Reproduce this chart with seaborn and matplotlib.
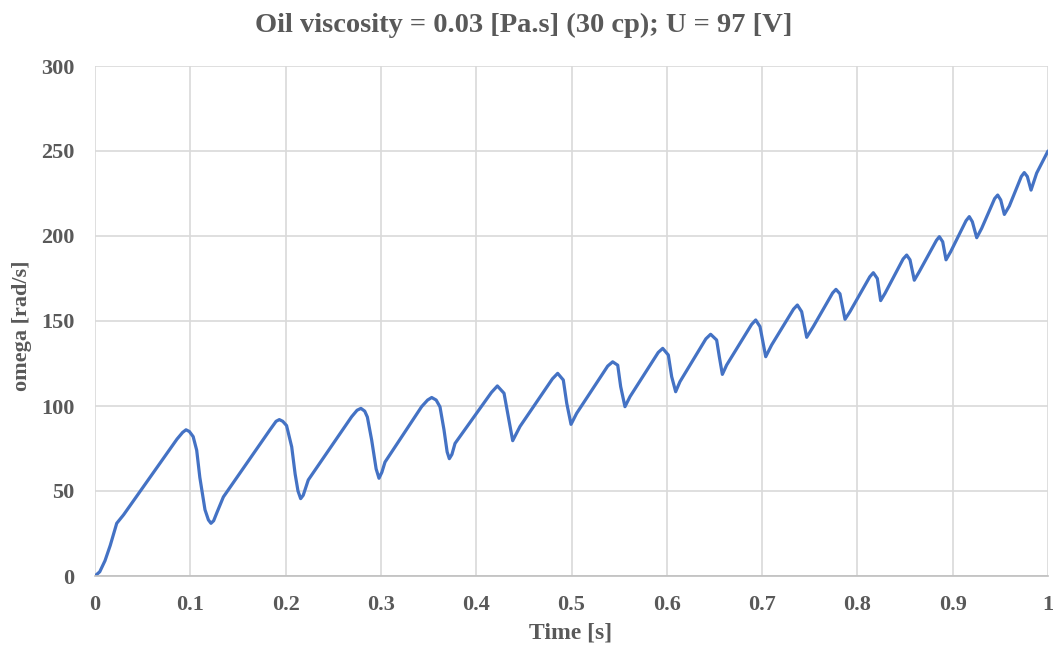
import matplotlib
matplotlib.use("Agg")
import matplotlib.pyplot as plt
import seaborn as sns
import pandas as pd

time_s = [0, 0.005, 0.0105, 0.016, 0.0228, 0.03, 0.086, 0.092, 0.0955, 0.099, 0.103, 0.1067,
          0.110, 0.1154, 0.119, 0.1217, 0.1245, 0.1277, 0.1347, 0.1836, 0.19, 0.1934, 0.197,
          0.201, 0.2064, 0.210, 0.213, 0.2158, 0.2185, 0.2238, 0.2693, 0.275, 0.279, 0.283,
          0.2858, 0.2903, 0.295, 0.298, 0.301, 0.3043, 0.3427, 0.349, 0.3533, 0.358, 0.362,
          0.3662, 0.3695, 0.3718, 0.3745, 0.3778, 0.416, 0.4222, 0.4292, 0.4337, 0.4383,
          0.446, 0.480, 0.4855, 0.4914, 0.495, 0.4995, 0.5054, 0.538, 0.5432, 0.5485, 0.5516,
          0.5561, 0.5614, 0.591, 0.5957, 0.6016, 0.6051, 0.6093, 0.6138, 0.641, 0.646, 0.6523,
          0.6551, 0.6583, 0.6628, 0.689, 0.6933, 0.6978, 0.7038, 0.71, 0.733, 0.737, 0.7415,
          0.7468, 0.7537, 0.774, 0.7775, 0.7817, 0.787, 0.7922, 0.813, 0.8167, 0.8209, 0.8244,
          0.829, 0.848, 0.8517, 0.8552, 0.8597, 0.8649, 0.883, 0.886, 0.8895, 0.893, 0.8979,
          0.914, 0.9174, 0.9206, 0.9252, 0.9304, 0.944, 0.9472, 0.9504, 0.9542, 0.9594, 0.972,
          0.9751, 0.9783, 0.9822, 0.9881, 1.0]
omega = [0, 2.5, 9, 18, 31, 36, 80.5, 84.5, 86, 85, 82, 74,
         58, 39, 33, 31, 32.5, 37, 46.5, 86, 91, 92, 91,
         88.5, 76, 60, 50, 45.5, 47.5, 56.5, 93.7, 97.5, 98.6, 97,
         93.5, 80, 63, 57.5, 61, 67, 99.6, 103.5, 105, 103.5, 99.5,
         86, 73, 69, 71.5, 78, 108, 111.8, 107.5, 93.7, 79.6,
         88, 116, 119.2, 115.3, 101.6, 89.2, 95.7, 123.5, 126, 124, 111.4,
         99.6, 105.5, 131.5, 133.9, 130, 117.3, 108.4, 114.3, 139.5, 142.2, 138.8,
         129, 118.6, 124.1, 148, 150.6, 146.7, 129, 135.9, 157, 159.4, 155.5,
         140.4, 146.7, 166.5, 168.6, 166, 151, 155.5, 176, 178.4, 175, 162,
         166.3, 186.5, 188.8, 186, 174, 179, 197.5, 199.6, 196.6, 186, 190.8,
         209, 211.4, 208.4, 199, 204.5, 222, 224.1, 221.2, 212.7, 217.6, 235,
         237.3, 235, 227, 237, 250]

x_ticks = [0, 0.1, 0.2, 0.3, 0.4, 0.5, 0.6, 0.7, 0.8, 0.9, 1]
x_tick_labels = ["0", "0.1", "0.2", "0.3", "0.4", "0.5", "0.6", "0.7", "0.8", "0.9", "1"]
y_ticks = [0, 50, 100, 150, 200, 250, 300]

title = "Oil viscosity = 0.03 [Pa.s] (30 cp); U = 97 [V]"
x_label = "Time [s]"
y_label = "omega [rad/s]"

df = pd.DataFrame({"t": time_s, "w": omega})

sns.set_theme(style="white")
plt.rcParams["font.family"] = ["Liberation Serif", "DejaVu Serif"]
text_color = "#595959"

fig = plt.figure(figsize=(10.53, 6.52), dpi=100)
ax = fig.add_axes([95 / 1053, 1 - 576 / 652, (1048 - 95) / 1053, (576 - 66) / 652])

sns.lineplot(data=df, x="t", y="w", ax=ax, color="#4472C4", linewidth=2.3,
             sort=False, estimator=None)

ax.set_xlim(0, 1)
ax.set_ylim(0, 300)
ax.set_xticks(x_ticks)
ax.set_xticklabels(x_tick_labels)
ax.set_yticks(y_ticks)
ax.grid(True, color="#D9D9D9", linewidth=1.2)
ax.set_axisbelow(True)
for s in ["top", "right", "left"]:
    ax.spines[s].set_visible(False)
ax.spines["bottom"].set_color("#BFBFBF")
ax.spines["bottom"].set_linewidth(1.2)
ax.tick_params(axis="both", length=0, labelsize=16, colors=text_color)
ax.tick_params(axis="x", pad=14)
ax.tick_params(axis="y", pad=15)
for lbl in ax.get_xticklabels() + ax.get_yticklabels():
    lbl.set_fontweight("bold")
ax.set_xlabel("")
ax.set_ylabel("")

fig.text(524 / 1053, 1 - 25 / 652, title, ha="center", va="center", fontsize=20.5,
         fontweight="bold", color=text_color)
fig.text(571 / 1053, 1 - 633 / 652, x_label, ha="center", va="center", fontsize=17,
         fontweight="bold", color=text_color)
fig.text(22 / 1053, 1 - 326 / 652, y_label, ha="center", va="center", rotation=90,
         fontsize=16, fontweight="bold", color=text_color)

fig.savefig("out.png", dpi=100)
